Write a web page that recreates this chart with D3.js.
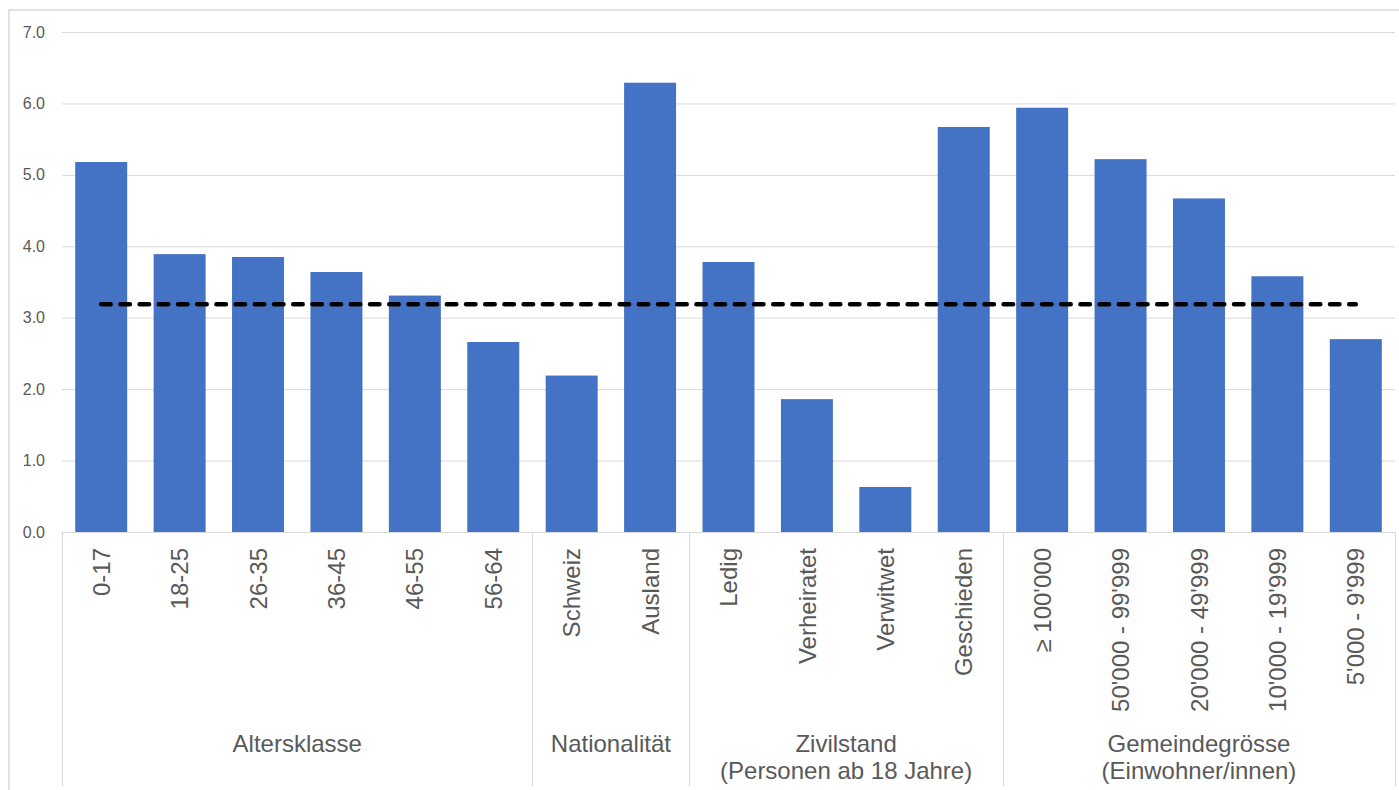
<!DOCTYPE html>
<html>
<head>
<meta charset="utf-8">
<script src="https://cdn.jsdelivr.net/npm/d3@7"></script>
<style>
  html, body { margin: 0; padding: 0; background: #fff; }
  svg { display: block; }
  text { font-family: "Liberation Sans", Arial, sans-serif; fill: #595959; }
</style>
</head>
<body>
<svg id="chart" width="1399" height="790"></svg>
<script>
const categories = ["0-17","18-25","26-35","36-45","46-55","56-64","Schweiz","Ausland","Ledig","Verheiratet","Verwitwet","Geschieden","\u2265 100'000","50'000 - 99'999","20'000 - 49'999","10'000 - 19'999","5'000 - 9'999"];
const values = [5.18, 3.89, 3.85, 3.64, 3.31, 2.66, 2.19, 6.29, 3.78, 1.86, 0.63, 5.67, 5.94, 5.22, 4.67, 3.58, 2.70];
const average = [3.19, 3.19, 3.19, 3.19, 3.19, 3.19, 3.19, 3.19, 3.19, 3.19, 3.19, 3.19, 3.19, 3.19, 3.19, 3.19, 3.19];
const groupNames = [["Altersklasse"], ["Nationalität"], ["Zivilstand", "(Personen ab 18 Jahre)"], ["Gemeindegrösse", "(Einwohner/innen)"]];
const groupSizes = [6, 2, 4, 5];
const yTicks = [0, 1, 2, 3, 4, 5, 6, 7];

(function () {
const svg = d3.select("#chart");
const pLeft = 62, pRight = 1395, pTop = 32, pBottom = 532;

// chart frame
svg.append("rect").attr("x", 9).attr("y", 10).attr("width", 1420).attr("height", 800)
  .attr("fill", "none").attr("stroke", "#d9d9d9").attr("stroke-width", 1.5);

const x = d3.scaleBand().domain(d3.range(categories.length)).range([pLeft, pRight])
  .paddingInner(0.337).paddingOuter(0.1685);
const y = d3.scaleLinear().domain([0, 7]).range([pBottom, pTop]);

// gridlines
svg.append("g").selectAll("line").data(yTicks.filter(d => d > 0)).join("line")
  .attr("x1", pLeft).attr("x2", pRight)
  .attr("y1", d => y(d) + 0.5).attr("y2", d => y(d) + 0.5)
  .attr("stroke", "#d9d9d9").attr("stroke-width", 1);

// y axis labels
const yAxis = d3.axisLeft(y).tickValues(yTicks).tickFormat(d3.format(".1f")).tickSize(0).tickPadding(0);
const yg = svg.append("g").attr("transform", `translate(45,0)`).call(yAxis);
yg.select(".domain").remove();
yg.selectAll("text").attr("font-size", 16).attr("fill", "#595959")
  .style("font-family", "'Liberation Sans', Arial, sans-serif");

// bars
svg.append("g").selectAll("rect").data(values).join("rect")
  .attr("x", (d, i) => x(i)).attr("width", x.bandwidth())
  .attr("y", d => y(d)).attr("height", d => y(0) - y(d))
  .attr("fill", "#4472C4");

// x axis baseline
svg.append("line").attr("x1", pLeft).attr("x2", pRight).attr("y1", pBottom + 0.5).attr("y2", pBottom + 0.5)
  .attr("stroke", "#d9d9d9").attr("stroke-width", 1);

// average dashed line
const line = d3.line().x((d, i) => x(i) + x.bandwidth() / 2).y(d => y(d));
svg.append("path").datum(average).attr("d", line)
  .attr("fill", "none").attr("stroke", "#000").attr("stroke-width", 4.5)
  .attr("stroke-dasharray", "9.5,9.7").attr("stroke-linecap", "round");

// category labels
svg.append("g").selectAll("text").data(categories).join("text")
  .attr("transform", (d, i) => `translate(${x(i) + x.bandwidth() / 2},548) rotate(-90)`)
  .attr("text-anchor", "end").attr("dy", "0.36em")
  .attr("font-size", 24).text(d => d);

// group separators and labels
let acc = 0;
const bounds = [0];
groupSizes.forEach(s => { acc += s; bounds.push(acc); });
const step = x.step();
const bx = i => pLeft + i * step;
svg.append("g").selectAll("line").data(bounds).join("line")
  .attr("x1", d => Math.round(bx(d)) + 0.5).attr("x2", d => Math.round(bx(d)) + 0.5)
  .attr("y1", pBottom).attr("y2", 786)
  .attr("stroke", "#d9d9d9").attr("stroke-width", 1);

groupNames.forEach((lines, gi) => {
  const cx = (bx(bounds[gi]) + bx(bounds[gi + 1])) / 2;
  const t = svg.append("text").attr("x", cx).attr("y", 752).attr("text-anchor", "middle").attr("font-size", 24);
  lines.forEach((ln, li) => {
    t.append("tspan").attr("x", cx).attr("dy", li === 0 ? 0 : 27).text(ln);
  });
});
})();
</script>
</body>
</html>
